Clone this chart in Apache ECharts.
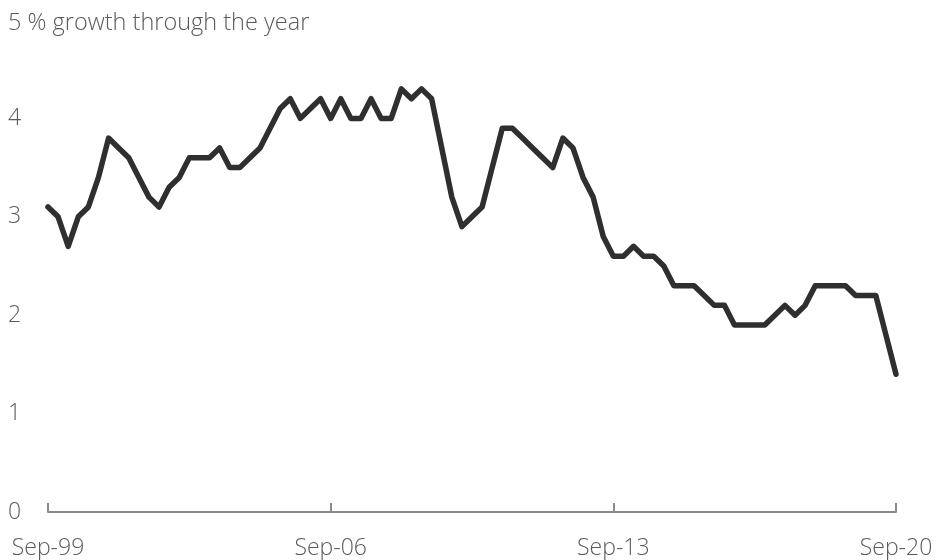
<!DOCTYPE html>
<html>
<head>
<meta charset="utf-8">
<script src="https://cdn.jsdelivr.net/npm/echarts@6/dist/echarts.min.js"></script>
<style>
  html, body { margin: 0; padding: 0; background: #fff; }
  #chart { width: 936px; height: 560px; }
</style>
</head>
<body>
<div id="chart"></div>
<script>
// Quarterly periods, Sep-1999 through Sep-2020
const months = ['Sep', 'Dec', 'Mar', 'Jun'];
const quarters = [];
for (let y = 1999, q = 0; quarters.length < 85; q++) {
  const m = months[q % 4];
  if (m === 'Mar' && q > 0) y++;
  quarters.push(m + '-' + String(y % 100).padStart(2, '0'));
}

// Annual growth, per cent
const growth = [
  3.1, 3.0, 2.7, 3.0, 3.1, 3.4, 3.8, 3.7, 3.6, 3.4,
  3.2, 3.1, 3.3, 3.4, 3.6, 3.6, 3.6, 3.7, 3.5, 3.5,
  3.6, 3.7, 3.9, 4.1, 4.2, 4.0, 4.1, 4.2, 4.0, 4.2,
  4.0, 4.0, 4.2, 4.0, 4.0, 4.3, 4.2, 4.3, 4.2, 3.7,
  3.2, 2.9, 3.0, 3.1, 3.5, 3.9, 3.9, 3.8, 3.7, 3.6,
  3.5, 3.8, 3.7, 3.4, 3.2, 2.8, 2.6, 2.6, 2.7, 2.6,
  2.6, 2.5, 2.3, 2.3, 2.3, 2.2, 2.1, 2.1, 1.9, 1.9,
  1.9, 1.9, 2.0, 2.1, 2.0, 2.1, 2.3, 2.3, 2.3, 2.3,
  2.2, 2.2, 2.2, 1.8, 1.4
];

const xTickLabels = ['Sep-99', 'Sep-06', 'Sep-13', 'Sep-20'];
const yTicks = [0, 1, 2, 3, 4, 5];
const yUnit = '% growth through the year';

const textColor = '#5a5a5a';
const fontFamily = '"Open Sans", Roboto, sans-serif';
const fontSize = 23;

const chart = echarts.init(document.getElementById('chart'), null, { renderer: 'canvas' });
chart.setOption({
  animation: false,
  backgroundColor: '#fff',
  grid: { left: 48, right: 40, top: 20, bottom: 48, containLabel: false },
  xAxis: {
    type: 'category',
    data: quarters,
    boundaryGap: false,
    axisLine: { lineStyle: { color: '#8a8a8a', width: 2 } },
    axisTick: {
      inside: true, length: 9,
      interval: (i, v) => xTickLabels.includes(v),
      lineStyle: { color: '#8a8a8a', width: 2 }
    },
    axisLabel: {
      interval: (i, v) => xTickLabels.includes(v),
      margin: 25,
      color: textColor,
      fontFamily: fontFamily,
      fontWeight: 300,
      fontSize: fontSize
    },
    splitLine: { show: false }
  },
  yAxis: {
    type: 'value',
    min: yTicks[0],
    max: yTicks[yTicks.length - 1],
    interval: 1,
    axisLine: { show: false },
    axisTick: { show: false },
    splitLine: { show: false },
    axisLabel: {
      align: 'left',
      margin: 40,
      color: textColor,
      fontFamily: fontFamily,
      fontWeight: 300,
      fontSize: fontSize,
      formatter: v => v === yTicks[yTicks.length - 1] ? '{top|' + v + ' ' + yUnit + '}' : String(v),
      rich: {
        top: {
          padding: [7, 0, 0, 0],
          color: textColor,
          fontFamily: fontFamily,
          fontWeight: 300,
          fontSize: fontSize + 0.5
        }
      }
    }
  },
  series: [{
    type: 'line',
    data: growth,
    symbol: 'none',
    lineStyle: { color: '#2f2f2f', width: 5.5, join: 'round', cap: 'round' }
  }]
});
</script>
</body>
</html>
